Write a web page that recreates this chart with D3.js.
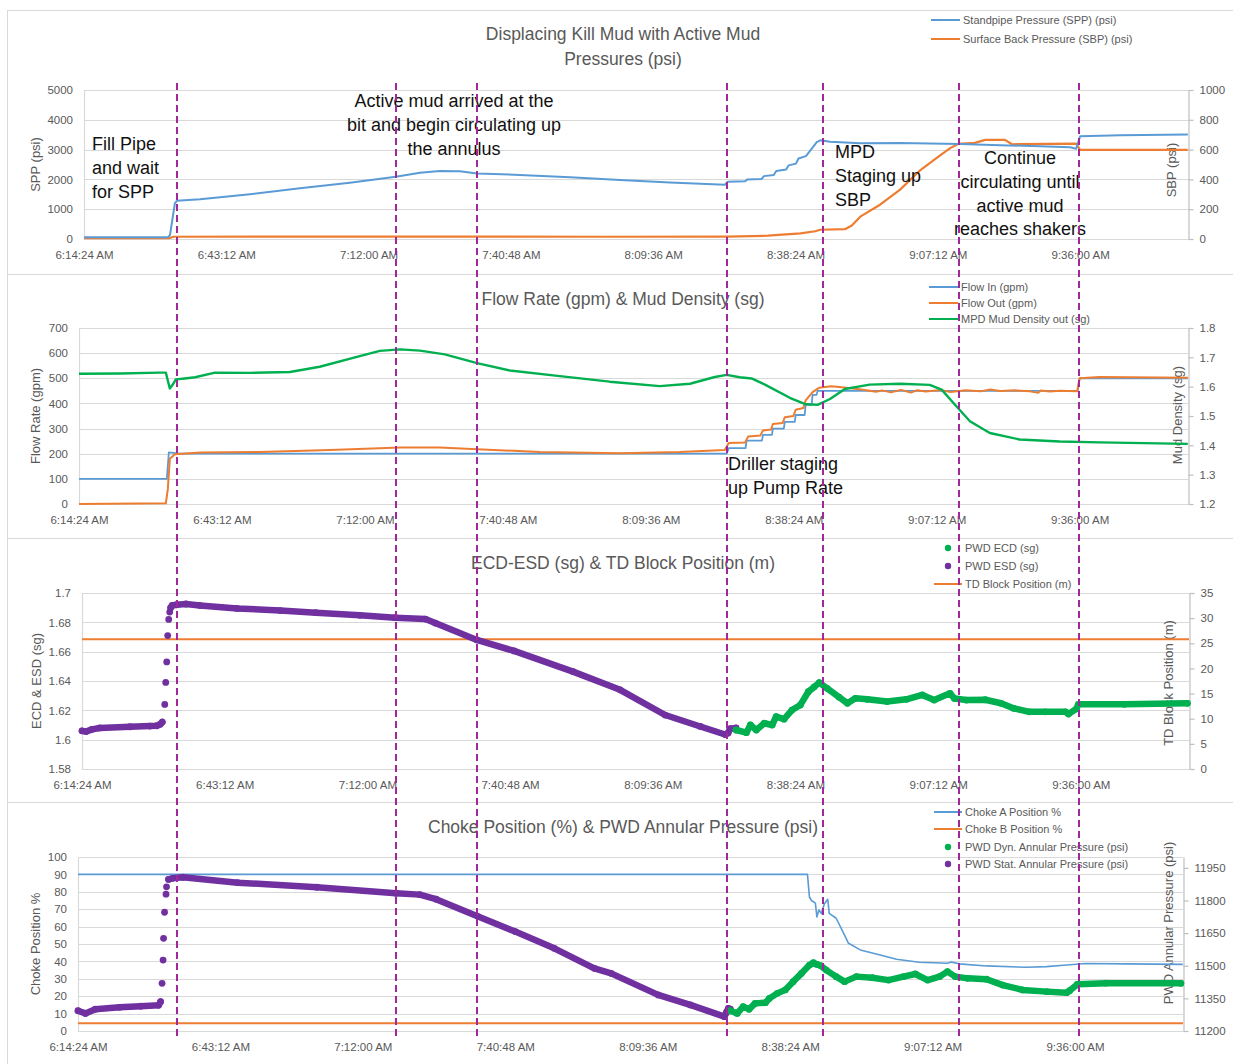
<!DOCTYPE html>
<html>
<head>
<meta charset="utf-8">
<script src="https://cdn.jsdelivr.net/npm/d3@7"></script>
<style>
  body { margin: 0; background: #fff; }
  text { font-family: "Liberation Sans", Arial, sans-serif; }
</style>
</head>
<body>
<svg id="chart" width="1233" height="1064"></svg>
<script>
// ---------- time axis ----------
const timeStart = "6:14:24";
const timeEnd = "9:57:50";
const timeTicks = ["6:14:24", "6:43:12", "7:12:00", "7:40:48", "8:09:36", "8:38:24", "9:07:12", "9:36:00"];
// operational milestones marked with dashed verticals
const eventTimes = ["6:33:12", "7:17:30", "7:33:54", "8:24:30", "8:43:58", "9:11:30", "9:35:46"];

// ---------- panel 1: pressures ----------
const sppTicks = ["0", "1000", "2000", "3000", "4000", "5000"];
const sbpTicks = ["0", "200", "400", "600", "800", "1000"];
const spp = [
  ["6:14:24", 60], ["6:31:24", 60], ["6:31:48", 130], ["6:32:48", 1200], ["6:33:12", 1280],
  ["6:37:54", 1330], ["6:48:00", 1500], ["6:58:06", 1700], ["7:08:12", 1890], ["7:17:30", 2090],
  ["7:22:24", 2220], ["7:26:24", 2280], ["7:30:30", 2270], ["7:33:54", 2200], ["7:42:36", 2150],
  ["7:52:48", 2070], ["8:02:54", 1980], ["8:13:00", 1900], ["8:24:06", 1820], ["8:24:42", 1920],
  ["8:28:12", 1940], ["8:28:40", 2000], ["8:31:30", 2010], ["8:32:00", 2110], ["8:34:00", 2150],
  ["8:34:30", 2280], ["8:36:30", 2330], ["8:37:00", 2470], ["8:38:30", 2530], ["8:39:00", 2700],
  ["8:40:30", 2780], ["8:41:18", 2950], ["8:42:42", 3250], ["8:43:24", 3310], ["8:45:24", 3260],
  ["8:51:30", 3210], ["8:59:30", 3220], ["9:11:42", 3190], ["9:19:48", 3150], ["9:27:54", 3110],
  ["9:34:00", 3080], ["9:35:12", 3030], ["9:36:00", 3450], ["9:44:06", 3480], ["9:57:48", 3510]
];
const sbp = [
  ["6:14:24", 5], ["6:31:40", 5], ["6:32:30", 15], ["7:00:00", 16], ["8:00:00", 15],
  ["8:24:30", 16], ["8:32:48", 22], ["8:39:24", 38], ["8:42:24", 52], ["8:43:24", 62],
  ["8:48:24", 66], ["8:49:48", 90], ["8:51:30", 150], ["8:55:30", 230], ["8:59:30", 330],
  ["9:03:36", 460], ["9:07:36", 560], ["9:09:42", 610], ["9:11:18", 638], ["9:14:42", 645],
  ["9:16:48", 665], ["9:20:48", 665], ["9:22:12", 636], ["9:35:12", 640], ["9:36:00", 598],
  ["9:57:48", 598]
];

// ---------- panel 2: flow rate & density ----------
const flowTicks = ["0", "100", "200", "300", "400", "500", "600", "700"];
const densityTicks = ["1.2", "1.3", "1.4", "1.5", "1.6", "1.7", "1.8"];
const flowIn = [
  ["6:14:24", 100], ["6:32:06", 100], ["6:32:30", 205], ["6:34:42", 200], ["8:24:54", 200],
  ["8:25:18", 222], ["8:28:42", 222], ["8:28:54", 252], ["8:32:00", 252], ["8:32:12", 275],
  ["8:34:00", 275], ["8:34:12", 300], ["8:36:24", 300], ["8:36:36", 327], ["8:38:36", 327],
  ["8:38:48", 354], ["8:40:36", 354], ["8:40:48", 394], ["8:42:00", 394], ["8:42:12", 434],
  ["8:43:00", 434], ["8:43:12", 450], ["9:35:36", 450], ["9:36:00", 500], ["9:57:48", 500]
];
const flowOut = [
  ["6:14:24", 0], ["6:31:54", 3], ["6:32:18", 60], ["6:32:42", 180], ["6:33:42", 198],
  ["6:38:48", 205], ["6:50:54", 207], ["7:05:00", 215], ["7:19:06", 225], ["7:27:06", 225],
  ["7:34:36", 218], ["7:47:18", 207], ["8:03:24", 202], ["8:15:24", 207], ["8:24:30", 215],
  ["8:25:18", 243], ["8:28:36", 245], ["8:29:12", 268], ["8:31:40", 272], ["8:32:12", 292],
  ["8:33:50", 296], ["8:34:12", 318], ["8:36:10", 322], ["8:36:36", 345], ["8:38:20", 350],
  ["8:38:48", 375], ["8:40:20", 382], ["8:40:48", 412], ["8:42:12", 445], ["8:43:30", 462],
  ["8:46:00", 468], ["8:49:00", 462], ["8:52:00", 455], ["8:55:00", 446], ["8:56:10", 452],
  ["8:58:00", 444], ["9:00:00", 454], ["9:02:00", 443], ["9:03:10", 452], ["9:05:00", 447],
  ["9:08:00", 453], ["9:10:00", 445], ["9:13:00", 452], ["9:16:00", 448], ["9:18:00", 455],
  ["9:20:00", 449], ["9:23:00", 452], ["9:26:00", 448], ["9:27:40", 442], ["9:28:10", 451],
  ["9:30:00", 447], ["9:32:00", 450], ["9:35:30", 448], ["9:36:00", 500], ["9:40:00", 505],
  ["9:57:48", 502]
];
const mudDensity = [
  ["6:14:24", 1.644], ["6:22:42", 1.645], ["6:30:42", 1.648], ["6:31:54", 1.648], ["6:32:18", 1.620],
  ["6:32:42", 1.594], ["6:33:18", 1.607], ["6:33:54", 1.625], ["6:35:42", 1.628], ["6:37:48", 1.632],
  ["6:41:48", 1.648], ["6:48:48", 1.647], ["6:56:54", 1.650], ["7:02:54", 1.668], ["7:10:00", 1.700],
  ["7:15:00", 1.722], ["7:19:06", 1.727], ["7:23:06", 1.723], ["7:28:06", 1.710], ["7:34:36", 1.680],
  ["7:41:12", 1.655], ["7:51:18", 1.636], ["8:01:18", 1.617], ["8:11:24", 1.602], ["8:17:30", 1.610],
  ["8:22:30", 1.633], ["8:24:54", 1.640], ["8:27:30", 1.632], ["8:29:54", 1.628], ["8:32:36", 1.607],
  ["8:37:36", 1.562], ["8:40:36", 1.541], ["8:43:12", 1.538], ["8:45:42", 1.558], ["8:48:42", 1.592],
  ["8:53:42", 1.607], ["8:59:48", 1.610], ["9:05:48", 1.606], ["9:08:12", 1.590], ["9:10:48", 1.540],
  ["9:13:54", 1.482], ["9:17:54", 1.442], ["9:23:54", 1.420], ["9:32:00", 1.413], ["9:40:00", 1.410],
  ["9:57:48", 1.405]
];

// ---------- panel 3: ECD / ESD & TD block ----------
const ecdTicks = ["1.58", "1.6", "1.62", "1.64", "1.66", "1.68", "1.7"];
const blockTicks = ["0", "5", "10", "15", "20", "25", "30", "35"];
const esdBefore = [
  ["6:14:24", 1.606], ["6:15:12", 1.6055], ["6:16:24", 1.607], ["6:18:00", 1.608], ["6:24:06", 1.6088],
  ["6:28:06", 1.6093], ["6:29:30", 1.6095], ["6:30:12", 1.6105], ["6:30:36", 1.612]
];
const esdRamp = [
  ["6:31:06", 1.624], ["6:31:18", 1.639], ["6:31:30", 1.653], ["6:31:42", 1.671], ["6:31:54", 1.682],
  ["6:32:06", 1.687]
];
const esdAfter = [
  ["6:32:18", 1.690], ["6:32:36", 1.6915], ["6:33:30", 1.692], ["6:35:24", 1.6925], ["6:38:12", 1.6915],
  ["6:45:42", 1.6895], ["6:54:24", 1.688], ["7:01:36", 1.6866], ["7:10:30", 1.6848], ["7:17:36", 1.6832],
  ["7:23:42", 1.6822], ["7:25:42", 1.6795], ["7:34:06", 1.668], ["7:41:36", 1.6605], ["7:53:30", 1.6464],
  ["8:03:00", 1.634], ["8:12:06", 1.6168], ["8:19:12", 1.609], ["8:24:12", 1.6035], ["8:24:48", 1.6045],
  ["8:25:12", 1.6075], ["8:26:24", 1.608]
];
const ecd = [
  ["8:26:24", 1.6066], ["8:28:30", 1.6048], ["8:29:18", 1.610], ["8:30:30", 1.6066], ["8:32:06", 1.6112],
  ["8:33:42", 1.610], ["8:34:30", 1.6157], ["8:36:06", 1.614], ["8:37:42", 1.6202], ["8:39:24", 1.6237],
  ["8:41:00", 1.6327], ["8:42:12", 1.636], ["8:43:12", 1.6389], ["8:44:48", 1.635], ["8:47:12", 1.629],
  ["8:48:54", 1.6248], ["8:50:30", 1.6282], ["8:52:54", 1.6275], ["8:56:54", 1.626], ["9:00:48", 1.6275],
  ["9:04:00", 1.6305], ["9:06:24", 1.627], ["9:09:36", 1.6316], ["9:10:30", 1.628], ["9:12:54", 1.627],
  ["9:16:42", 1.6272], ["9:19:54", 1.6248], ["9:22:24", 1.6214], ["9:25:36", 1.619], ["9:28:48", 1.619],
  ["9:32:54", 1.619], ["9:33:30", 1.6175], ["9:35:06", 1.621], ["9:35:30", 1.6241], ["9:44:48", 1.6241],
  ["9:57:30", 1.6248]
];
const tdBlock = [["6:14:24", 25.8], ["9:57:50", 25.8]];

// ---------- panel 4: choke position & annular pressure ----------
const chokeTicks = ["0", "10", "20", "30", "40", "50", "60", "70", "80", "90", "100"];
const annularTicks = ["11200", "11350", "11500", "11650", "11800", "11950"];
const chokeA = [
  ["6:14:24", 90], ["8:41:54", 90], ["8:42:18", 77], ["8:42:42", 75], ["8:43:30", 73.5],
  ["8:43:48", 65.5], ["8:44:12", 69.5], ["8:44:42", 67.5], ["8:45:18", 73], ["8:46:00", 75.7],
  ["8:46:18", 67.6], ["8:47:42", 64.8], ["8:48:54", 58], ["8:50:12", 50.4], ["8:52:36", 46.6],
  ["8:56:36", 43.7], ["8:59:54", 41.2], ["9:04:30", 39.5], ["9:10:12", 38.9], ["9:11:00", 39.6],
  ["9:12:36", 38.6], ["9:18:06", 37.4], ["9:26:12", 36.6], ["9:30:12", 37.0], ["9:34:18", 37.9],
  ["9:38:06", 38.8], ["9:46:12", 38.6], ["9:57:48", 38.3]
];
const chokeB = [["6:14:24", 4.5], ["9:57:50", 4.5]];
const statBefore = [
  ["6:14:24", 11293], ["6:15:54", 11281], ["6:17:54", 11300], ["6:22:48", 11309], ["6:27:06", 11314],
  ["6:30:42", 11318], ["6:31:06", 11335]
];
const statRamp = [
  ["6:31:24", 11419], ["6:31:36", 11526], ["6:31:42", 11626], ["6:31:54", 11746], ["6:32:12", 11829],
  ["6:32:18", 11863]
];
const statAfter = [
  ["6:32:42", 11897], ["6:33:30", 11902], ["6:35:36", 11907], ["6:46:42", 11882], ["7:02:42", 11861],
  ["7:18:42", 11833], ["7:23:30", 11827], ["7:26:48", 11806], ["7:35:18", 11726], ["7:42:48", 11657],
  ["7:50:42", 11580], ["7:58:48", 11488], ["8:02:12", 11465], ["8:11:42", 11366], ["8:18:12", 11320],
  ["8:25:06", 11266], ["8:25:30", 11285], ["8:25:54", 11304], ["8:26:18", 11300]
];
const dynPressure = [
  ["8:26:18", 11293], ["8:27:42", 11281], ["8:28:54", 11312], ["8:30:06", 11300], ["8:31:18", 11327],
  ["8:33:24", 11330], ["8:34:12", 11350], ["8:35:48", 11373], ["8:37:24", 11389], ["8:39:00", 11427],
  ["8:40:42", 11465], ["8:42:18", 11503], ["8:43:06", 11514], ["8:43:48", 11506], ["8:44:36", 11500],
  ["8:45:42", 11480], ["8:47:42", 11450], ["8:49:24", 11427], ["8:51:48", 11450], ["8:55:00", 11445],
  ["8:58:18", 11434], ["9:01:18", 11450], ["9:03:42", 11462], ["9:06:12", 11434], ["9:08:36", 11450],
  ["9:10:12", 11473], ["9:11:48", 11450], ["9:14:18", 11442], ["9:18:06", 11438], ["9:21:24", 11411],
  ["9:25:24", 11389], ["9:30:18", 11381], ["9:34:18", 11376], ["9:34:54", 11385], ["9:36:30", 11415],
  ["9:42:12", 11420], ["9:57:24", 11419]
];

// ---------- drawing ----------
const BLUE = "#5B9BD5", ORANGE = "#ED7D31", GREEN = "#00B050", PURPLE = "#7030A0";
const GRID = "#D9D9D9", AXIS = "#BFBFBF", INK = "#595959", EVENT = "#A0289B";
const parseT = d3.timeParse("%H:%M:%S");
const fmtT = d3.timeFormat("%-I:%M:%S %p");
const svg = d3.select("#chart");

function buildPanel(p) {
  const g = svg.append("g");
  const x = d3.scaleTime().domain([parseT(timeStart), parseT(timeEnd)]).range([p.left, p.right]);
  const yL = d3.scaleLinear().domain(p.leftDomain).range([p.bottom, p.top]);
  const yR = d3.scaleLinear().domain(p.rightDomain).range([p.bottom, p.top]);

  g.append("rect")
    .attr("x", 7.5).attr("y", p.boxTop + 0.5)
    .attr("width", 1240).attr("height", p.boxBottom - p.boxTop)
    .attr("fill", "#fff").attr("stroke", GRID);

  // horizontal gridlines on the left-axis ticks
  g.append("g").selectAll("line").data(p.leftTicks).join("line")
    .attr("x1", p.left).attr("x2", p.right)
    .attr("y1", d => Math.round(yL(+d)) + 0.5).attr("y2", d => Math.round(yL(+d)) + 0.5)
    .attr("stroke", GRID).attr("stroke-width", 1.2);
  g.append("line")
    .attr("x1", p.left + 0.5).attr("x2", p.left + 0.5)
    .attr("y1", p.top).attr("y2", p.bottom)
    .attr("stroke", GRID).attr("stroke-width", 1.2);

  const left = g.append("g").attr("transform", `translate(${p.left},0)`)
    .call(d3.axisLeft(yL).tickValues(p.leftTicks.map(Number))
      .tickFormat((d, i) => p.leftTicks[i]).tickSize(0).tickPadding(11));
  left.select(".domain").remove();

  const right = g.append("g").attr("transform", `translate(${p.right + 0.5},0)`)
    .call(d3.axisRight(yR).tickValues(p.rightTicks.map(Number))
      .tickFormat((d, i) => p.rightTicks[i]).tickSize(5).tickSizeOuter(0).tickPadding(6));
  right.select(".domain").attr("stroke", AXIS).attr("stroke-width", 1.2);
  right.selectAll(".tick line").attr("stroke", AXIS).attr("stroke-width", 1.2);

  const bottom = g.append("g").attr("transform", `translate(0,${p.bottom})`)
    .call(d3.axisBottom(x).tickValues(timeTicks.map(parseT)).tickFormat(fmtT)
      .tickSize(0).tickPadding(12));
  bottom.select(".domain").remove();

  g.selectAll(".tick text").attr("fill", INK).style("font-size", "11.5px");

  // axis titles
  g.append("text")
    .attr("transform", `translate(${p.leftTitleX},${(p.top + p.bottom) / 2}) rotate(-90)`)
    .attr("text-anchor", "middle").attr("dy", "0.35em")
    .attr("fill", INK).style("font-size", "13px").text(p.leftTitle);
  g.append("text")
    .attr("transform", `translate(${p.rightTitleX},${p.rightTitleY}) rotate(-90)`)
    .attr("text-anchor", "middle").attr("dy", "0.35em")
    .attr("fill", INK).style("font-size", "13px").text(p.rightTitle);

  // chart title
  p.title.forEach((line, i) => {
    g.append("text").attr("x", 623).attr("y", p.titleY + i * 25)
      .attr("text-anchor", "middle").attr("dy", "0.35em")
      .attr("fill", INK).style("font-size", "17.5px").text(line);
  });

  // legend
  p.legend.forEach((item, i) => {
    const ly = p.legendY[i];
    if (item.kind === "line") {
      g.append("line").attr("x1", p.legendX[0]).attr("x2", p.legendX[1])
        .attr("y1", ly).attr("y2", ly).attr("stroke", item.color).attr("stroke-width", 2);
    } else {
      g.append("circle").attr("cx", (p.legendX[0] + p.legendX[1]) / 2).attr("cy", ly)
        .attr("r", 3.2).attr("fill", item.color);
    }
    g.append("text").attr("x", p.legendX[1] + 3).attr("y", ly).attr("dy", "0.35em")
      .attr("fill", INK).style("font-size", "11px").text(item.label);
  });

  const plot = g.append("g");
  return { x, yL, yR, plot };
}

function drawLine(panel, data, y, color, width) {
  const line = d3.line().x(d => panel.x(parseT(d[0]))).y(d => y(d[1]));
  panel.plot.append("path").datum(data)
    .attr("d", line).attr("fill", "none")
    .attr("stroke", color).attr("stroke-width", width)
    .attr("stroke-linejoin", "round");
}

// dense scatter runs read as a continuous band of markers
function drawMarkerRun(panel, data, y, color) {
  const line = d3.line().x(d => panel.x(parseT(d[0]))).y(d => y(d[1]));
  panel.plot.append("path").datum(data)
    .attr("d", line).attr("fill", "none")
    .attr("stroke", color).attr("stroke-width", 6.5)
    .attr("stroke-linejoin", "round").attr("stroke-linecap", "round");
  drawMarkers(panel, data, y, color);
}
function drawMarkers(panel, data, y, color) {
  panel.plot.append("g").selectAll("circle").data(data).join("circle")
    .attr("cx", d => panel.x(parseT(d[0]))).attr("cy", d => y(d[1]))
    .attr("r", 3.4).attr("fill", color);
}

// ---- panel 1 ----
const p1 = buildPanel({
  boxTop: 10, boxBottom: 274, left: 84, right: 1188, top: 90, bottom: 239,
  leftDomain: [0, 5000], rightDomain: [0, 1000], leftTicks: sppTicks, rightTicks: sbpTicks,
  leftTitle: "SPP (psi)", leftTitleX: 35, rightTitle: "SBP (psi)", rightTitleX: 1171, rightTitleY: 170,
  title: ["Displacing Kill Mud with Active Mud", "Pressures (psi)"], titleY: 34,
  legendX: [931, 960], legendY: [20, 39],
  legend: [
    { kind: "line", color: BLUE, label: "Standpipe Pressure (SPP) (psi)" },
    { kind: "line", color: ORANGE, label: "Surface Back Pressure (SBP) (psi)" }
  ]
});
drawLine(p1, sbp, p1.yR, ORANGE, 2.2);
drawLine(p1, spp, p1.yL, BLUE, 2);

// ---- panel 2 ----
const p2 = buildPanel({
  boxTop: 274, boxBottom: 538, left: 79, right: 1188, top: 328, bottom: 504,
  leftDomain: [0, 700], rightDomain: [1.2, 1.8], leftTicks: flowTicks, rightTicks: densityTicks,
  leftTitle: "Flow Rate (gpm)", leftTitleX: 35, rightTitle: "Mud Density (sg)", rightTitleX: 1177, rightTitleY: 415,
  title: ["Flow Rate (gpm) & Mud Density (sg)"], titleY: 299,
  legendX: [929, 958], legendY: [287, 303, 319],
  legend: [
    { kind: "line", color: BLUE, label: "Flow In (gpm)" },
    { kind: "line", color: ORANGE, label: "Flow Out (gpm)" },
    { kind: "line", color: GREEN, label: "MPD Mud Density out (sg)" }
  ]
});
drawLine(p2, flowIn, p2.yL, BLUE, 1.8);
drawLine(p2, flowOut, p2.yL, ORANGE, 2);
drawLine(p2, mudDensity, p2.yR, GREEN, 2.4);

// ---- panel 3 ----
const p3 = buildPanel({
  boxTop: 538, boxBottom: 802, left: 82, right: 1189, top: 593, bottom: 769,
  leftDomain: [1.58, 1.7], rightDomain: [0, 35], leftTicks: ecdTicks, rightTicks: blockTicks,
  leftTitle: "ECD & ESD (sg)", leftTitleX: 36, rightTitle: "TD Block Position (m)", rightTitleX: 1168, rightTitleY: 683,
  title: ["ECD-ESD (sg) & TD Block Position (m)"], titleY: 563,
  legendX: [934, 962], legendY: [548, 566, 584],
  legend: [
    { kind: "dot", color: GREEN, label: "PWD ECD (sg)" },
    { kind: "dot", color: PURPLE, label: "PWD ESD (sg)" },
    { kind: "line", color: ORANGE, label: "TD Block Position (m)" }
  ]
});
drawLine(p3, tdBlock, p3.yR, ORANGE, 2);
drawMarkerRun(p3, esdBefore, p3.yL, PURPLE);
drawMarkers(p3, esdRamp, p3.yL, PURPLE);
drawMarkerRun(p3, esdAfter, p3.yL, PURPLE);
drawMarkerRun(p3, ecd, p3.yL, GREEN);

// ---- panel 4 ----
const p4 = buildPanel({
  boxTop: 802, boxBottom: 1070, left: 78, right: 1183, top: 857, bottom: 1031,
  leftDomain: [0, 100], rightDomain: [11200, 12000], leftTicks: chokeTicks, rightTicks: annularTicks,
  leftTitle: "Choke Position %", leftTitleX: 35, rightTitle: "PWD Annular Pressure (psi)", rightTitleX: 1168, rightTitleY: 923,
  title: ["Choke Position (%) & PWD Annular Pressure (psi)"], titleY: 827,
  legendX: [934, 962], legendY: [812, 829, 847, 864],
  legend: [
    { kind: "line", color: BLUE, label: "Choke A Position %" },
    { kind: "line", color: ORANGE, label: "Choke B Position %" },
    { kind: "dot", color: GREEN, label: "PWD Dyn. Annular Pressure (psi)" },
    { kind: "dot", color: PURPLE, label: "PWD Stat. Annular Pressure (psi)" }
  ]
});
drawLine(p4, chokeB, p4.yL, ORANGE, 2);
drawLine(p4, chokeA, p4.yL, BLUE, 1.6);
drawMarkerRun(p4, statBefore, p4.yR, PURPLE);
drawMarkers(p4, statRamp, p4.yR, PURPLE);
drawMarkerRun(p4, statAfter, p4.yR, PURPLE);
drawMarkerRun(p4, dynPressure, p4.yR, GREEN);

// ---------- annotations ----------
const notes = [
  { lines: ["Fill Pipe", "and wait", "for SPP"], x: 92, y: 144, anchor: "start" },
  { lines: ["Active mud arrived at the", "bit and begin circulating up", "the annulus"], x: 454, y: 101, anchor: "middle" },
  { lines: ["MPD", "Staging up", "SBP"], x: 835, y: 152, anchor: "start" },
  { lines: ["Continue", "circulating until", "active mud", "reaches shakers"], x: 1020, y: 158, anchor: "middle" },
  { lines: ["Driller staging", "up Pump Rate"], x: 728, y: 464, anchor: "start" }
];
const ann = svg.append("g");
notes.forEach(n => {
  n.lines.forEach((line, i) => {
    ann.append("text").attr("x", n.x).attr("y", n.y + i * 23.6).attr("dy", "0.35em")
      .attr("text-anchor", n.anchor).attr("fill", "#111")
      .style("font-size", "18px").text(line);
  });
});

// ---------- event markers across all panels ----------
svg.append("g").selectAll("line").data(eventTimes).join("line")
  .attr("x1", d => Math.round(p1.x(parseT(d))))
  .attr("x2", d => Math.round(p1.x(parseT(d))))
  .attr("y1", 83).attr("y2", 1037)
  .attr("stroke", EVENT).attr("stroke-width", 2)
  .attr("stroke-dasharray", "7,4");
</script>
</body>
</html>
